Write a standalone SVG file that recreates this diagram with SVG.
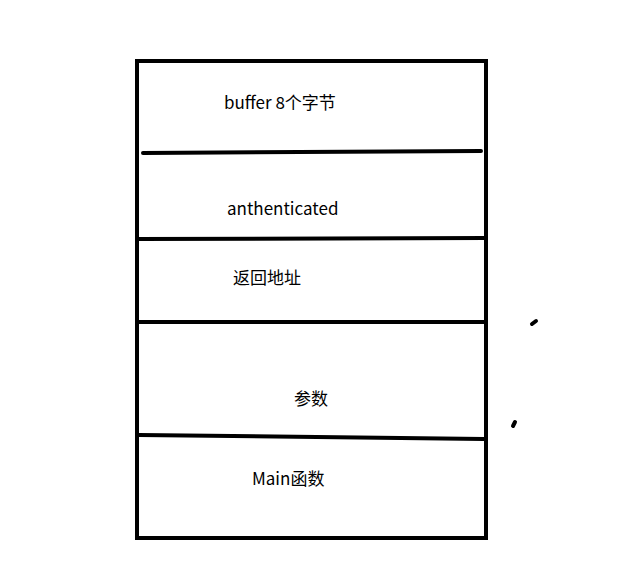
<svg xmlns="http://www.w3.org/2000/svg" width="636" height="574" viewBox="0 0 636 574">
<style>
.l{stroke:#000;stroke-width:4;fill:none;stroke-linecap:round}
text{font-family:"Microsoft YaHei","Noto Sans CJK SC",sans-serif;font-size:17px;fill:#000}
</style>
<rect width="636" height="574" fill="#fff"/>
<g id="stack"><rect class="l" x="137" y="61" width="349" height="477"/></g>
<g id="connectors">
<path class="l" d="M143 153 L481 151"/>
<path class="l" d="M137 239 L486 238"/>
<path class="l" d="M137 322 L486 322"/>
<path class="l" d="M139 435 L484 439"/>
<path class="l" d="M532 324 L536 321"/>
<path class="l" d="M513 426 L515 422"/>
</g>
<g id="n1"><text x="224" y="109">buffer 8个字节</text></g>
<g id="n2"><text x="227" y="215">anthenticated</text></g>
<g id="n3"><text x="233" y="284">返回地址</text></g>
<g id="n4"><text x="294" y="405">参数</text></g>
<g id="n5"><text x="252" y="485">Main函数</text></g>
</svg>
